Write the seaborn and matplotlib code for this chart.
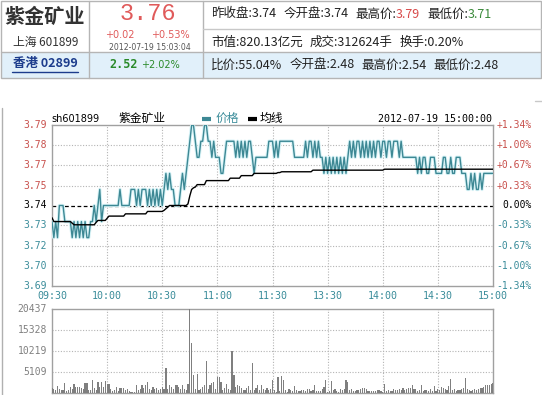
import matplotlib
matplotlib.use("Agg")
import matplotlib.pyplot as plt
import matplotlib.transforms as mtrans
from matplotlib.patches import Rectangle
import numpy as np
import pandas as pd
import seaborn as sns

# ---------------- data ----------------
stock_name = "紫金矿业"
stock_code = "sh601899"
pre_close = 3.74
chart_time = "2012-07-19 15:00:00"
time_labels = ["09:30", "10:00", "10:30", "11:00", "11:30", "13:30", "14:00", "14:30", "15:00"]
time_ticks = [0, 30, 60, 90, 120, 150, 180, 210, 240]
pct_levels = [1.34, 1.00, 0.67, 0.33, 0.00, -0.33, -0.67, -1.00, -1.34]
price_labels = ["3.79", "3.78", "3.77", "3.75", "3.74", "3.73", "3.72", "3.70", "3.69"]
pct_labels = ["+1.34%", "+1.00%", "+0.67%", "+0.33%", "0.00%", "-0.33%", "-0.67%", "-1.00%", "-1.34%"]
vol_levels = [20437, 15328, 10219, 5109]
vol_labels = ["20437", "15328", "10219", "5109"]

price = [
    3.73, 3.72, 3.73, 3.72, 3.74, 3.74, 3.74, 3.73, 3.73, 3.73,
    3.73, 3.72, 3.73, 3.72, 3.73, 3.72, 3.73, 3.72, 3.73, 3.72,
    3.72, 3.73, 3.73, 3.74, 3.73, 3.74, 3.75, 3.73, 3.74, 3.74,
    3.74, 3.74, 3.74, 3.74, 3.74, 3.74, 3.74, 3.75, 3.74, 3.74,
    3.74, 3.74, 3.74, 3.75, 3.75, 3.75, 3.74, 3.75, 3.74, 3.75,
    3.75, 3.75, 3.74, 3.75, 3.74, 3.75, 3.74, 3.75, 3.74, 3.75,
    3.74, 3.75, 3.76, 3.75, 3.76, 3.75, 3.75, 3.74, 3.74, 3.74,
    3.75, 3.76, 3.75, 3.76, 3.77, 3.78, 3.79, 3.79, 3.78, 3.77,
    3.77, 3.78, 3.78, 3.79, 3.79, 3.78, 3.78, 3.77, 3.78, 3.77,
    3.77, 3.77, 3.76, 3.76, 3.77, 3.78, 3.78, 3.78, 3.78, 3.78,
    3.77, 3.78, 3.77, 3.78, 3.77, 3.78, 3.77, 3.78, 3.78, 3.77,
    3.76, 3.77, 3.77, 3.77, 3.77, 3.77, 3.77, 3.77, 3.78, 3.78,
    3.78, 3.77, 3.78, 3.77, 3.78, 3.78, 3.78, 3.78, 3.78, 3.78,
    3.78, 3.78, 3.77, 3.77, 3.77, 3.77, 3.77, 3.77, 3.78, 3.77,
    3.78, 3.78, 3.77, 3.78, 3.77, 3.78, 3.77, 3.77, 3.76, 3.77,
    3.76, 3.77, 3.76, 3.77, 3.76, 3.77, 3.76, 3.77, 3.76, 3.77,
    3.76, 3.77, 3.78, 3.77, 3.78, 3.77, 3.78, 3.78, 3.77, 3.78,
    3.77, 3.78, 3.77, 3.78, 3.77, 3.78, 3.77, 3.78, 3.78, 3.77,
    3.78, 3.78, 3.77, 3.78, 3.78, 3.77, 3.78, 3.78, 3.78, 3.77,
    3.78, 3.77, 3.77, 3.77, 3.77, 3.77, 3.77, 3.77, 3.77, 3.76,
    3.77, 3.76, 3.77, 3.77, 3.76, 3.76, 3.77, 3.77, 3.77, 3.76,
    3.76, 3.76, 3.76, 3.77, 3.77, 3.76, 3.76, 3.77, 3.76, 3.76,
    3.77, 3.77, 3.77, 3.76, 3.76, 3.76, 3.75, 3.75, 3.76, 3.75,
    3.76, 3.75, 3.75, 3.76, 3.75, 3.76, 3.76, 3.76, 3.76, 3.76,
    3.76,
]

avg_price = [
    3.7324, 3.730, 3.730, 3.730, 3.730, 3.730, 3.730, 3.730, 3.730, 3.730,
    3.730, 3.729, 3.728, 3.728, 3.728, 3.728, 3.728, 3.728, 3.728, 3.728,
    3.728, 3.728, 3.728, 3.728, 3.7295, 3.7307, 3.7307, 3.7307, 3.7307, 3.7307,
    3.732, 3.7334, 3.7334, 3.7334, 3.7334, 3.7334, 3.7334, 3.7334, 3.7334, 3.7334,
    3.7348, 3.7348, 3.7348, 3.7348, 3.7348, 3.7348, 3.7348, 3.7348, 3.7348, 3.7348,
    3.7348, 3.7348, 3.7363, 3.7363, 3.7363, 3.7363, 3.7363, 3.7363, 3.7363, 3.7363,
    3.7363, 3.737, 3.738, 3.739, 3.740, 3.740, 3.740, 3.740, 3.740, 3.740,
    3.740, 3.740, 3.740, 3.740, 3.741, 3.746, 3.750, 3.751, 3.7515, 3.753,
    3.753, 3.753, 3.753, 3.753, 3.7555, 3.7555, 3.7555, 3.7555, 3.7555, 3.7555,
    3.7555, 3.7555, 3.7555, 3.7555, 3.7555, 3.7555, 3.7555, 3.757, 3.757, 3.757,
    3.757, 3.757, 3.757, 3.7586, 3.7586, 3.7586, 3.7586, 3.7586, 3.7586, 3.7586,
    3.760, 3.760, 3.760, 3.760, 3.760, 3.760, 3.760, 3.760, 3.760, 3.760,
    3.760, 3.760, 3.760, 3.7605, 3.7605, 3.761, 3.761, 3.761, 3.761, 3.761,
    3.761, 3.761, 3.761, 3.761, 3.761, 3.761, 3.761, 3.761, 3.761, 3.761,
    3.761, 3.761, 3.762, 3.762, 3.762, 3.762, 3.762, 3.762, 3.762, 3.762,
    3.762, 3.762, 3.762, 3.762, 3.762, 3.762, 3.762, 3.762, 3.762, 3.762,
    3.762, 3.762, 3.762, 3.762, 3.762, 3.762, 3.762, 3.762, 3.762, 3.762,
    3.762, 3.762, 3.762, 3.762, 3.762, 3.762, 3.762, 3.762, 3.762, 3.762,
    3.762, 3.7626, 3.7626, 3.7626, 3.7626, 3.7626, 3.7626, 3.7626, 3.7626, 3.7626,
    3.7626, 3.7626, 3.7626, 3.7626, 3.7626, 3.7626, 3.7626, 3.7626, 3.7626, 3.7626,
    3.7626, 3.7626, 3.7626, 3.7626, 3.7626, 3.7626, 3.7626, 3.7626, 3.7626, 3.7626,
    3.7626, 3.7626, 3.7626, 3.7626, 3.7626, 3.7626, 3.7626, 3.7626, 3.7626, 3.7626,
    3.7626, 3.7626, 3.7626, 3.7626, 3.7626, 3.7626, 3.7626, 3.7626, 3.7626, 3.7626,
    3.7626, 3.7626, 3.7626, 3.7626, 3.7626, 3.7626, 3.7626, 3.7626, 3.7626, 3.7626,
    3.7626,
]

volume = [
    1216, 892, 650, 1703, 1054, 700, 650, 2514, 405, 650,
    1460, 1054, 2271, 1460, 1460, 1460, 1216, 1054, 2433, 2433,
    650, 650, 3244, 1216, 650, 2676, 1460, 2676, 1460, 2839,
    2271, 2109, 900, 487, 811, 1379, 405, 1216, 1298, 1216,
    650, 892, 487, 324, 324, 324, 1865, 650, 1054, 1865,
    1216, 2028, 2676, 1054, 650, 1379, 892, 1216, 650, 1054,
    1460, 900, 6083, 1054, 2028, 1460, 1054, 2028, 2028, 1460,
    973, 2028, 1054, 650, 2109, 20437, 12100, 4298, 1054, 4542,
    650, 1054, 1460, 1865, 7786, 1054, 2028, 2433, 2676, 892,
    3893, 3893, 2676, 650, 1216, 2271, 1054, 650, 10138, 4298,
    1460, 1865, 1703, 1216, 650, 650, 1216, 1703, 650, 7300,
    650, 1298, 1865, 650, 1865, 1054, 650, 1216, 650, 892,
    3244, 650, 243, 3893, 487, 4136, 3082, 650, 243, 1054,
    811, 487, 1622, 650, 405, 568, 650, 650, 487, 892,
    1054, 487, 650, 1865, 487, 487, 487, 1054, 1460, 3082,
    243, 405, 2839, 650, 1054, 405, 243, 1054, 811, 1054,
    3082, 2676, 650, 892, 405, 487, 811, 650, 1054, 1216,
    1216, 1054, 405, 487, 405, 487, 405, 650, 650, 487,
    243, 2271, 405, 650, 487, 405, 1054, 811, 650, 1054,
    811, 1216, 650, 1054, 1298, 1216, 2028, 892, 1054, 405,
    650, 2028, 405, 650, 811, 487, 892, 405, 1703, 487,
    1054, 650, 1541, 1216, 1054, 650, 1703, 3487, 650, 892,
    487, 811, 650, 1054, 1216, 3650, 1054, 650, 405, 811,
    892, 650, 1054, 1298, 1298, 1460, 1865, 1865, 2028, 2271,
    2350,
]

minutes = list(range(len(price)))
df = pd.DataFrame({"minute": minutes, "price": price, "avg": avg_price, "volume": volume})

# ---------------- styling ----------------
sns.set_theme(style="white")
plt.rcParams['font.family'] = ['Noto Sans CJK SC', 'DejaVu Sans']
MONO = ['DejaVu Sans Mono']
CJK = ['Noto Sans CJK SC', 'DejaVu Sans']
RED = "#c8504c"
TEAL = "#3a8c9a"
LINE = "#3d8894"
GRID = "#b4b4b4"
FRAME = "#a0a0a0"

W, H = 542, 395
fig = plt.figure(figsize=(W / 100, H / 100), dpi=100)
bg = fig.add_axes([0, 0, 1, 1])
bg.set_xlim(0, W)
bg.set_ylim(H, 0)
bg.axis('off')
renderer = fig.canvas.get_renderer()


def ax_rect(x0, y0, x1, y1):
    return [x0 / W, 1 - y1 / H, (x1 - x0) / W, (y1 - y0) / H]


def seq(x, y, parts, size=9, family=CJK, gap=7):
    for p in parts:
        if p is None:
            x += gap
            continue
        s, c = p[0], p[1]
        kw = p[2] if len(p) > 2 else {}
        fs = kw.pop('size', size)
        fam = kw.pop('family', family)
        t = bg.text(x, y, s, color=c, fontsize=fs, family=fam, va='center', ha='left', **kw)
        x += t.get_window_extent(renderer=renderer).width
    return x


# ---------------- header ----------------
bg.add_patch(Rectangle((0.5, 52), 540.5, 26, facecolor="#e1f0fa", edgecolor='none'))
bg.add_patch(Rectangle((0.5, 0.5), 540.5, 77.5, facecolor='none', edgecolor="#b5b5b5", lw=1))
for xv in (89, 203):
    bg.plot([xv, xv], [0.5, 78], color="#b5b5b5", lw=1)
bg.plot([203, 541], [29, 29], color="#c8c8c8", lw=1)
bg.plot([0.5, 541], [52, 52], color="#b5b5b5", lw=1)

bg.text(45, 16, stock_name, fontsize=14.5, fontweight='bold', color="#333333",
        family=CJK, ha='center', va='center')
bg.text(46, 42, "上海 601899", fontsize=8.5, color="#333333", family=CJK, ha='center', va='center')
bg.text(148, 14, "3.76", fontsize=17, color="#e05a5a", family=['Liberation Mono'],
        ha='center', va='center')
bg.text(120, 35, "+0.02", fontsize=7, color="#e05a5a", family=['DejaVu Sans'], ha='center', va='center')
bg.text(170, 35, "+0.53%", fontsize=7, color="#e05a5a", family=['DejaVu Sans'], ha='center', va='center')
bg.text(150, 47, "2012-07-19 15:03:04", fontsize=5.6, color="#555555", family=['DejaVu Sans'],
        ha='center', va='center')
bg.text(45, 64, "香港 02899", fontsize=9, fontweight='bold', color="#1c3c8c", family=CJK,
        ha='center', va='center')
bg.plot([12, 78], [71.5, 71.5], color="#1c3c8c", lw=1)
seq(109, 65, [("2.52", "#2a8a2a", {'size': 8.5, 'family': MONO, 'fontweight': 'bold'}),
              None,
              ("+2.02%", "#2a8a2a", {'size': 7, 'family': ['DejaVu Sans']})], gap=4)

K = "#222222"
seq(211, 14, [("昨收盘:3.74", K), None, ("今开盘:3.74", K), None, ("最高价:", K), ("3.79", "#d84a4a"),
              None, ("最低价:", K), ("3.71", "#3a8a3a")])
seq(211, 42, [("市值:820.13亿元", K), None, ("成交:312624手", K), None, ("换手:0.20%", K)])
seq(211, 65, [("比价:55.04%", K), None, ("今开盘:2.48", K), None, ("最高价:2.54", K), None,
              ("最低价:2.48", K)])

# chart box left edge
bg.plot([1.5, 1.5], [108, 395], color="#b0b0b0", lw=1)
bg.plot([535, 542], [101, 101], color="#c8c8c8", lw=1)

# ---------------- price panel ----------------
ymin = pre_close * (1 - 1.34 / 100)
ymax = pre_close * (1 + 1.34 / 100)
levels = [pre_close * (1 + p / 100) for p in pct_levels]

ax = fig.add_axes(ax_rect(52, 125, 493, 286))
ax.set_facecolor('white')
for lv, p in zip(levels, pct_levels):
    if p == 0:
        ax.axhline(lv, color='black', lw=0.9, ls=(0, (3, 2)), zorder=2)
    elif abs(p) < 1.3:
        ax.axhline(lv, color=GRID, lw=0.8, ls=(0, (1, 1.5)), zorder=1)
for t in time_ticks[1:-1]:
    ax.axvline(t, color=GRID, lw=0.8, ls=(0, (1, 1.5)), zorder=1)

sns.lineplot(data=df, x="minute", y="price", ax=ax, color="#d6f2f6", lw=2.4, zorder=3)
sns.lineplot(data=df, x="minute", y="price", ax=ax, color=LINE, lw=1.0, zorder=4)
sns.lineplot(data=df, x="minute", y="avg", ax=ax, color='black', lw=1.0, zorder=5)
ax.set_xlim(0, 240)
ax.set_ylim(ymin, ymax)
ax.set_xticks([])
ax.set_yticks([])
ax.set_xlabel("")
ax.set_ylabel("")
for s in ax.spines.values():
    s.set_color(FRAME)
    s.set_linewidth(1)
    s.set_visible(True)

ytrans = mtrans.blended_transform_factory(bg.transData, ax.transData)
for lv, p, lab, plab in zip(levels, pct_levels, price_labels, pct_labels):
    c = RED if p > 0 else ('black' if p == 0 else TEAL)
    ax.text(47, lv, lab, transform=ytrans, ha='right', va='center', fontsize=7, family=MONO, color=c)
    ax.text(532, lv, plab, transform=ytrans, ha='right', va='center', fontsize=7, family=MONO, color=c)

xtrans = mtrans.blended_transform_factory(ax.transData, bg.transData)
for t, lab in zip(time_ticks, time_labels):
    ax.text(t, 296, lab, transform=xtrans, ha='center', va='center', fontsize=7.2, family=MONO,
            color=TEAL, clip_on=False)

# title / legend row
bg.text(51, 118.5, stock_code, fontsize=7, family=['DejaVu Sans'], color='black', ha='left', va='center')
bg.text(118, 118.5, stock_name, fontsize=8.5, family=CJK, color='black', ha='left', va='center')
bg.plot([202, 211], [118.5, 118.5], color=LINE, lw=3, solid_capstyle='butt')
bg.text(216, 118.5, "价格", fontsize=8.5, family=CJK, color=TEAL, ha='left', va='center')
bg.plot([248, 257], [118.5, 118.5], color='black', lw=3, solid_capstyle='butt')
bg.text(260, 118.5, "均线", fontsize=8.5, family=CJK, color='black', ha='left', va='center')
bg.text(492, 118.5, chart_time, fontsize=7.2, family=MONO, color='black', ha='right', va='center')

# ---------------- volume panel ----------------
vax = fig.add_axes(ax_rect(52, 309, 493, 393))
vax.set_facecolor('white')
for lv in vol_levels[1:]:
    vax.axhline(lv, color=GRID, lw=0.8, ls=(0, (1, 1.5)), zorder=1)
for t in time_ticks[1:-1]:
    vax.axvline(t, color=GRID, lw=0.8, ls=(0, (1, 1.5)), zorder=1)
sns.barplot(data=df, x="minute", y="volume", native_scale=True, color="#7f7f7f", width=0.65,
            errorbar=None, ax=vax, linewidth=0, saturation=1, zorder=3)
vax.set_xlim(0, 240)
vax.set_ylim(0, vol_levels[0])
vax.set_xticks([])
vax.set_yticks([])
vax.set_xlabel("")
vax.set_ylabel("")
for s in vax.spines.values():
    s.set_color(FRAME)
    s.set_linewidth(1)
    s.set_visible(True)
vtrans = mtrans.blended_transform_factory(bg.transData, vax.transData)
for lv, lab in zip(vol_levels, vol_labels):
    vax.text(47, lv, lab, transform=vtrans, ha='right', va='center', fontsize=7, family=MONO,
             color="#808080", clip_on=False)

fig.savefig("out.png", dpi=100)
